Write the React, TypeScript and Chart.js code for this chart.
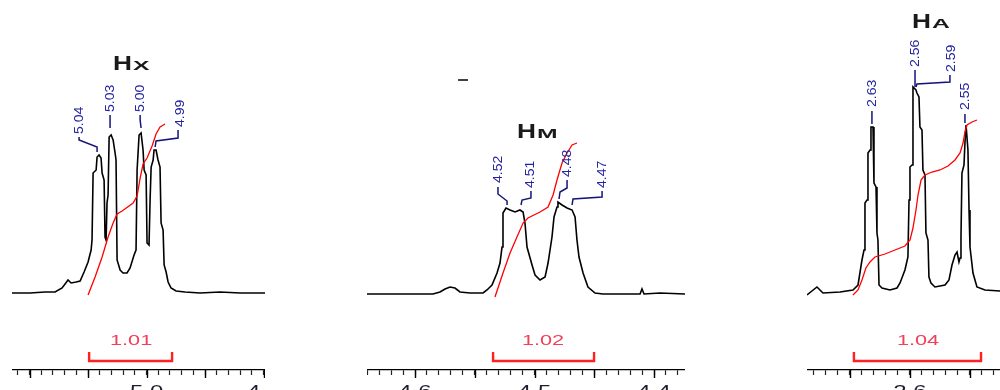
import React, { useEffect, useRef } from 'react';
import { Chart, registerables } from 'chart.js';

Chart.register(...registerables);

// ---------- Panel 1 : Hx ----------
const HX_PPM = [5.115, 5.0996, 5.0867, 5.0782, 5.0722, 5.0671, 5.0645, 5.0602, 5.0568, 5.0534, 5.05, 5.0474, 5.0466, 5.0457, 5.0431, 5.0423, 5.0406, 5.0389, 5.038, 5.0363, 5.0355, 5.0346, 5.0338, 5.0329, 5.032, 5.0303, 5.0286, 5.0269, 5.0261, 5.0252, 5.0226, 5.0201, 5.0167, 5.0141, 5.0107, 5.009, 5.0081, 5.0064, 5.0047, 5.003, 5.0021, 5.0004, 4.9996, 4.9979, 4.997, 4.9961, 4.9944, 4.9936, 4.9919, 4.9902, 4.9885, 4.9876, 4.9859, 4.985, 4.9833, 4.9816, 4.9791, 4.9748, 4.9671, 4.9543, 4.9372, 4.9201, 4.9004, 4.8988];
const HX_INT = [0, 0, 1, 1, 5, 13, 10, 11, 12, 21, 31, 43, 53, 120, 123, 136, 138, 135, 120, 113, 56, 53, 90, 98, 156, 158, 153, 140, 133, 33, 23, 20, 20, 25, 38, 43, 123, 158, 160, 143, 123, 118, 50, 48, 93, 126, 133, 143, 143, 133, 126, 70, 63, 28, 21, 11, 5, 2, 1, 0, 1, 0, 0, 0];
const HX_INTEG_PPM = [5.05, 5.044, 5.038, 5.0329, 5.0286, 5.0252, 5.0209, 5.0115, 5.0081, 5.0055, 5.003, 4.9996, 4.9953, 4.9919, 4.9885, 4.9842];
const HX_INTEG_VAL = [-2, 16, 36, 56, 70, 79, 82, 90, 97, 115, 129, 135, 147, 159, 166, 169];
const HX_PEAK_LABELS = ['5.04', '5.03', '5.00', '4.99'];
const HX_AXIS_VALUES = [5.0, 4.9];
const HX_AXIS_LABELS = ['5.0', '4.9'];
const HX_INTEGRAL_LABEL = '1.01';
const HX_INTEGRAL_RANGE = [5.0491, 4.9782];

// ---------- Panel 2 : HM ----------
const HM_PPM = [4.6402, 4.6126, 4.585, 4.5791, 4.5749, 4.5707, 4.5666, 4.5624, 4.554, 4.5431, 4.5398, 4.5356, 4.5314, 4.5289, 4.5272, 4.5264, 4.5239, 4.5205, 4.5163, 4.5122, 4.5096, 4.508, 4.5063, 4.5021, 4.4996, 4.4954, 4.4912, 4.4887, 4.4854, 4.4837, 4.4812, 4.4804, 4.477, 4.4728, 4.4686, 4.4661, 4.4645, 4.4628, 4.4594, 4.4553, 4.4494, 4.4427, 4.4285, 4.4117, 4.4101, 4.4084, 4.395, 4.3741];
const HM_INT = [-1, -1, -1, 1, 4, 6, 5, 1, 0, 0, 3, 8, 20, 30, 46, 80, 85, 83, 81, 83, 81, 70, 46, 28, 18, 13, 16, 30, 56, 76, 86, 91, 88, 85, 83, 76, 53, 36, 20, 6, 0, -1, -1, -1, 4, -1, 0, -1];
const HM_INTEG_PPM = [4.5331, 4.5264, 4.5205, 4.5147, 4.5096, 4.5055, 4.4954, 4.4887, 4.4845, 4.4812, 4.477, 4.4728, 4.4686, 4.4645];
const HM_INTEG_VAL = [-4, 20, 40, 56, 70, 75, 81, 86, 98, 113, 130, 140, 148, 150];
const HM_PEAK_LABELS = ['4.52', '4.51', '4.48', '4.47'];
const HM_AXIS_VALUES = [4.6, 4.5, 4.4];
const HM_AXIS_LABELS = ['4.6', '4.5', '4.4'];
const HM_INTEGRAL_LABEL = '1.02';
const HM_INTEGRAL_RANGE = [4.5347, 4.4502];

// ---------- Panel 3 : HA ----------
const HA_PPM = [2.6858, 2.6775, 2.6725, 2.6583, 2.6475, 2.6433, 2.64, 2.6383, 2.6375, 2.6358, 2.635, 2.6333, 2.6325, 2.6308, 2.63, 2.6283, 2.6275, 2.6267, 2.6258, 2.6233, 2.6167, 2.6108, 2.6083, 2.6042, 2.6017, 2.6008, 2.6, 2.5983, 2.5975, 2.595, 2.5942, 2.5925, 2.5917, 2.59, 2.5892, 2.5875, 2.5867, 2.585, 2.5842, 2.5825, 2.5792, 2.5708, 2.5675, 2.565, 2.5625, 2.5608, 2.5592, 2.5583, 2.5575, 2.5567, 2.555, 2.5542, 2.5533, 2.5525, 2.5517, 2.5508, 2.55, 2.5475, 2.5442, 2.5375, 2.525, 2.515];
const HA_INT = [-2, 6, 0, 1, 3, 8, 33, 43, 90, 93, 140, 143, 166, 166, 110, 106, 60, 53, 8, 5, 3, 5, 10, 23, 36, 93, 126, 128, 206, 203, 200, 196, 166, 163, 123, 118, 60, 53, 16, 10, 6, 8, 13, 28, 38, 41, 31, 35, 56, 120, 128, 150, 168, 168, 143, 83, 46, 20, 6, 3, 2, 2];
const HA_INTEG_PPM = [2.6475, 2.6433, 2.64, 2.6367, 2.6333, 2.6292, 2.6208, 2.6125, 2.6042, 2.6, 2.5975, 2.595, 2.5933, 2.5908, 2.5875, 2.5817, 2.575, 2.5683, 2.5625, 2.5583, 2.5558, 2.5542, 2.5525, 2.5483, 2.5442];
const HA_INTEG_VAL = [-2, 3, 13, 25, 31, 36, 39, 43, 47, 53, 65, 83, 98, 113, 118, 121, 123, 127, 133, 140, 150, 161, 168, 171, 173];
const HA_PEAK_LABELS = ['2.63', '2.56', '2.59', '2.55'];
const HA_AXIS_VALUES = [2.6];
const HA_AXIS_LABELS = ['2.6'];
const HA_INTEGRAL_LABEL = '1.04';
const HA_INTEGRAL_RANGE = [2.6467, 2.5408];

// ---------- annotation layout (data space: ppm, height) ----------
const FONT = '"Liberation Sans", Arial, sans-serif';

const PANELS = [
  {
    left: 12, width: 253, min: 4.8988, max: 5.115,
    ppm: HX_PPM, val: HX_INT, integPpm: HX_INTEG_PPM, integVal: HX_INTEG_VAL,
    axisValues: HX_AXIS_VALUES, axisLabels: HX_AXIS_LABELS,
    title: { main: 'H', sub: 'X', x: 5.0286, y: 223 },
    peaks: [
      { x: 5.0577, y: 159, path: [[5.0577, 156], [5.0577, 153], [5.0423, 146], [5.0423, 141]] },
      { x: 5.0312, y: 181, path: [[5.0312, 178], [5.0312, 165]] },
      { x: 5.0055, y: 181, path: [[5.0055, 178], [5.0055, 173], [5.0047, 165]] },
      { x: 4.9714, y: 166, path: [[4.9731, 163], [4.9731, 155], [4.9919, 152], [4.9927, 146]] },
    ],
    peakLabels: HX_PEAK_LABELS,
    integral: { label: HX_INTEGRAL_LABEL, range: HX_INTEGRAL_RANGE, labelX: 5.0132 },
    dash: null as null | number[],
  },
  {
    left: 367, width: 318, min: 4.3741, max: 4.6402,
    ppm: HM_PPM, val: HM_INT, integPpm: HM_INTEG_PPM, integVal: HM_INTEG_VAL,
    axisValues: HM_AXIS_VALUES, axisLabels: HM_AXIS_LABELS,
    title: { main: 'H', sub: 'M', x: 4.5147, y: 155 },
    peaks: [
      { x: 4.5306, y: 110, path: [[4.5306, 106], [4.5306, 99], [4.523, 92], [4.523, 88]] },
      { x: 4.5038, y: 105, path: [[4.503, 102], [4.503, 95], [4.5105, 93], [4.5113, 88]] },
      { x: 4.4728, y: 116, path: [[4.4728, 113], [4.4728, 105], [4.4787, 101], [4.4795, 94]] },
      { x: 4.4435, y: 105, path: [[4.4435, 102], [4.4435, 96], [4.4678, 94], [4.4686, 88]] },
    ],
    peakLabels: HM_PEAK_LABELS,
    integral: { label: HM_INTEGRAL_LABEL, range: HM_INTEGRAL_RANGE, labelX: 4.4929 },
    dash: [4.564, 4.5557, 213] as null | number[],
  },
  {
    left: 807, width: 205, min: 2.515, max: 2.6858,
    ppm: HA_PPM, val: HA_INT, integPpm: HA_INTEG_PPM, integVal: HA_INTEG_VAL,
    axisValues: HA_AXIS_VALUES, axisLabels: HA_AXIS_LABELS,
    title: { main: 'H', sub: 'A', x: 2.5983, y: 265 },
    peaks: [
      { x: 2.6317, y: 186, path: [[2.6317, 182], [2.6317, 169]] },
      { x: 2.5958, y: 226, path: [[2.5958, 223], [2.5958, 206]] },
      { x: 2.5658, y: 221, path: [[2.5667, 218], [2.5667, 211], [2.5942, 209], [2.595, 206]] },
      { x: 2.5542, y: 183, path: [[2.5542, 179], [2.5542, 170]] },
    ],
    peakLabels: HA_PEAK_LABELS,
    integral: { label: HA_INTEGRAL_LABEL, range: HA_INTEGRAL_RANGE, labelX: 2.5933 },
    dash: null as null | number[],
  },
];

type Panel = typeof PANELS[number];

function zip(xs: number[], ys: number[]) {
  const n = Math.min(xs.length, ys.length);
  const out: { x: number; y: number }[] = [];
  for (let i = 0; i < n; i++) out.push({ x: xs[i], y: ys[i] });
  return out;
}

function minorTicks(min: number, max: number) {
  const out: number[] = [];
  for (let k = Math.ceil(min * 100 - 1e-6); k <= Math.floor(max * 100 + 1e-6); k++) out.push(k / 100);
  return out;
}

function stretchText(ctx: CanvasRenderingContext2D, text: string, x: number, y: number, font: string, sx: number, color: string, align: CanvasTextAlign = 'center') {
  ctx.save();
  ctx.translate(x, y);
  ctx.scale(sx, 1);
  ctx.font = font;
  ctx.fillStyle = color;
  ctx.textAlign = align;
  ctx.textBaseline = 'alphabetic';
  ctx.fillText(text, 0, 0);
  ctx.restore();
}

function annotPlugin(p: Panel) {
  return {
    id: 'nmrAnnot',
    afterDraw(chart: any) {
      const ctx: CanvasRenderingContext2D = chart.ctx;
      const xs = chart.scales.x;
      const ys = chart.scales.y;
      const X = (v: number) => xs.getPixelForValue(v);
      const Y = (v: number) => ys.getPixelForValue(v);
      const bottom = chart.chartArea.bottom;
      ctx.save();

      // longer ticks every 0.05 ppm
      ctx.strokeStyle = '#000';
      ctx.lineWidth = 1.4;
      for (const t of xs.ticks) {
        const k = Math.round(t.value * 100);
        if (k % 5 === 0) {
          const px = Math.round(X(t.value)) + 0.5;
          ctx.beginPath();
          ctx.moveTo(px, bottom);
          ctx.lineTo(px, bottom + 8);
          ctx.stroke();
        }
      }

      // axis labels
      p.axisValues.forEach((v, i) => {
        stretchText(ctx, p.axisLabels[i], X(v), bottom + 27, `16px ${FONT}`, 1.5, '#1e1e2e');
      });

      // integral bracket
      const [a, b] = p.integral.range;
      ctx.strokeStyle = '#ff2020';
      ctx.lineWidth = 2.4;
      ctx.beginPath();
      ctx.moveTo(X(a), Y(-59));
      ctx.lineTo(X(a), Y(-68));
      ctx.lineTo(X(b), Y(-68));
      ctx.lineTo(X(b), Y(-59));
      ctx.stroke();
      stretchText(ctx, p.integral.label, X(p.integral.labelX), Y(-52), `14px ${FONT}`, 1.55, '#f0405a');

      // peak labels + leaders
      p.peaks.forEach((pk, i) => {
        ctx.strokeStyle = '#14147a';
        ctx.lineWidth = 1.5;
        ctx.beginPath();
        pk.path.forEach(([px, py], j) => {
          if (j === 0) ctx.moveTo(X(px), Y(py));
          else ctx.lineTo(X(px), Y(py));
        });
        ctx.stroke();
        ctx.save();
        ctx.translate(X(pk.x), Y(pk.y));
        ctx.rotate(-Math.PI / 2);
        ctx.scale(1.08, 1);
        ctx.font = `13px ${FONT}`;
        ctx.fillStyle = '#2222a0';
        ctx.textAlign = 'left';
        ctx.textBaseline = 'middle';
        ctx.fillText(p.peakLabels[i], 0, 0);
        ctx.restore();
      });

      // title  H + small capital
      const tx = X(p.title.x);
      const ty = Y(p.title.y);
      ctx.font = `bold 21px ${FONT}`;
      const wH = ctx.measureText(p.title.main).width * 1.25;
      stretchText(ctx, p.title.main, tx, ty, `bold 21px ${FONT}`, 1.25, '#1a1a1a', 'left');
      stretchText(ctx, p.title.sub, tx + wH + 1, ty, `bold 13px ${FONT}`, 1.9, '#1a1a1a', 'left');

      // small stray dash
      if (p.dash) {
        ctx.strokeStyle = '#000';
        ctx.lineWidth = 1.5;
        ctx.beginPath();
        ctx.moveTo(X(p.dash[0]), Y(p.dash[2]));
        ctx.lineTo(X(p.dash[1]), Y(p.dash[2]));
        ctx.stroke();
      }
      ctx.restore();
    },
  };
}

function PanelChart({ panel }: { panel: Panel }) {
  const ref = useRef<HTMLCanvasElement>(null);
  useEffect(() => {
    const canvas = ref.current;
    if (!canvas) return;
    const chart = new Chart(canvas, {
      type: 'line',
      data: {
        datasets: [
          {
            data: zip(panel.integPpm, panel.integVal),
            borderColor: '#ff0000',
            borderWidth: 1.3,
            pointRadius: 0,
            tension: 0,
            fill: false,
            order: 1,
          },
          {
            data: zip(panel.ppm, panel.val),
            borderColor: '#000000',
            borderWidth: 1.6,
            pointRadius: 0,
            tension: 0,
            fill: false,
            order: 2,
          },
        ],
      },
      options: {
        responsive: false,
        animation: false,
        events: [],
        layout: { padding: 0 },
        plugins: { legend: { display: false }, tooltip: { enabled: false } },
        scales: {
          x: {
            type: 'linear',
            reverse: true,
            min: panel.min,
            max: panel.max,
            afterBuildTicks: (s: any) => {
              s.ticks = minorTicks(panel.min, panel.max).map((v) => ({ value: v }));
            },
            afterFit: (s: any) => {
              s.height = 20;
            },
            ticks: { display: false },
            grid: {
              display: true,
              drawOnChartArea: false,
              drawTicks: true,
              tickLength: 5,
              tickWidth: 1.2,
              tickColor: '#222',
            },
            border: { display: true, color: '#000', width: 1.3 },
          },
          y: { type: 'linear', display: false, min: -77, max: 293 },
        },
      } as any,
      plugins: [annotPlugin(panel)],
    });
    return () => chart.destroy();
  }, [panel]);
  return (
    <canvas
      ref={ref}
      width={panel.width}
      height={390}
      style={{ position: 'absolute', left: panel.left, top: 0, width: panel.width, height: 390 }}
    />
  );
}

export default function App() {
  return (
    <div style={{ position: 'absolute', left: 0, top: 0, width: 1000, height: 390, overflow: 'hidden', background: '#fff' }}>
      {PANELS.map((p, i) => (
        <PanelChart key={i} panel={p} />
      ))}
    </div>
  );
}
